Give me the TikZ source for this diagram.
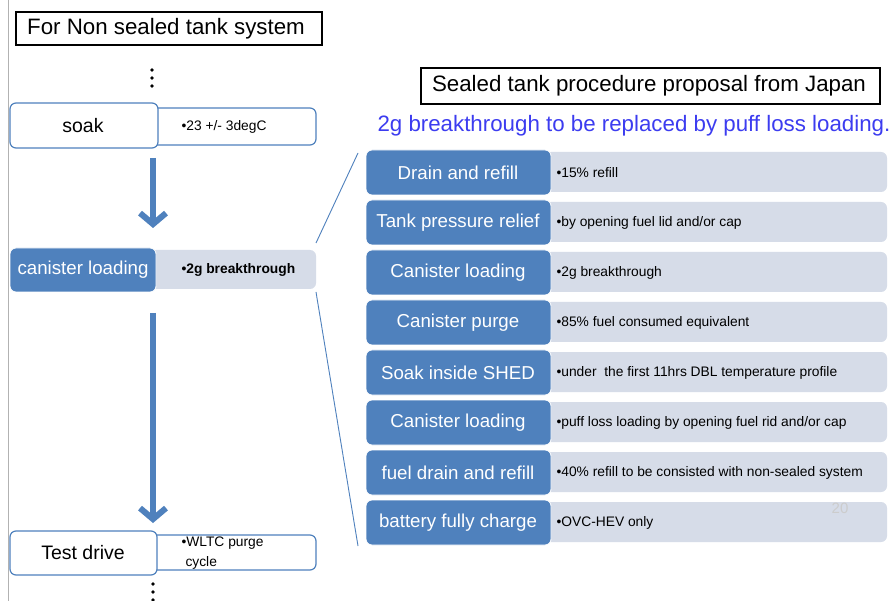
\documentclass[tikz,border=0pt]{standalone}
\usepackage{fontspec}
\setmainfont{Liberation Sans}
\usetikzlibrary{arrows.meta}
\definecolor{accent}{RGB}{79,129,189}
\definecolor{pale}{RGB}{214,220,232}
\definecolor{violet}{RGB}{60,60,240}
\begin{document}
\begin{tikzpicture}[x=1pt,y=-1pt,
  titlebox/.style={draw=black,line width=1.5pt,fill=white},
  titletext/.style={font=\fontsize{22.3}{26}\selectfont},
  lefthead/.style={rounded corners=6pt,line width=1.2pt,draw=accent,fill=white},
  headtext/.style={font=\fontsize{19.5}{22}\selectfont},
  leftdesc/.style={rounded corners=6pt,line width=1.2pt,draw=accent,fill=white},
  stepbox/.style={rounded corners=6pt,fill=accent,draw=white,line width=0.8pt},
  descbox/.style={rounded corners=6pt,fill=pale},
  steptext/.style={text=white,font=\fontsize{18.7}{22}\selectfont},
  desctext/.style={anchor=west,font=\fontsize{13.8}{16}\selectfont},
  dotmark/.style={fill=black,circle,inner sep=0pt,minimum size=3.6pt},
  bigarrow/.style={draw=accent,line width=6pt,-{Straight Barb[length=11pt,width=26pt]}},
  link/.style={draw=accent,line width=0.9pt}]
\useasboundingbox (0,0) rectangle (891,601);
\fill[white] (0,0) rectangle (891,601);
\draw[gray!60,line width=1pt] (8,0) -- (8,601);

% left column
\draw[titlebox] (16,12) rectangle (322,45);
\node[titletext] (t1) at (166,29) {For Non sealed tank system};
\node[dotmark] (d1a) at (152,70) {};
\node[dotmark] (d1b) at (152,78) {};
\node[dotmark] (d1c) at (152,86) {};

\draw[leftdesc] (150,108) rectangle (316,145);
\draw[lefthead] (10,103) rectangle (158,148);
\node[headtext] (soak) at (83,126) {soak};
\node[desctext] (soakd) at (178,127) {•23 +/- 3degC};

\fill[descbox] (150,250) rectangle (316,289);
\fill[stepbox] (10,248) rectangle (156,292);
\node[steptext] (cl) at (83,270) {canister loading};
\node[desctext,font=\fontsize{13.8}{16}\selectfont\bfseries] (cld) at (178,270) {•2g breakthrough};

\draw[leftdesc] (150,535) rectangle (316,570);
\draw[lefthead] (10,531) rectangle (157,575);
\node[headtext] (td) at (83,553) {Test drive};
\node[desctext,align=left,anchor=north west,font=\fontsize{13.8}{20}\selectfont] (tdd) at (178,533) {•WLTC purge\\\hspace*{4pt}cycle};
\node[dotmark] (d2a) at (153,584) {};
\node[dotmark] (d2b) at (153,592) {};
\node[dotmark] (d2c) at (153,600) {};

\coordinate (a1s) at (153,158);
\coordinate (a1e) at (153,228);
\coordinate (a2s) at (153,313);
\coordinate (a2e) at (153,523);
\draw[bigarrow] (a1s) -- (a1e);
\draw[bigarrow] (a2s) -- (a2e);

% right column
\draw[titlebox] (421,68) rectangle (880,104);
\node[titletext] (t2) at (649,86) {Sealed tank procedure proposal from Japan};
\node[anchor=west,text=violet,font=\fontsize{22.3}{26}\selectfont] (note) at (374,126) {2g breakthrough to be replaced by puff loss loading.};

\foreach \i/\lab/\desc in {0/Drain and refill/{•15\% refill},
  1/Tank pressure relief/{•by opening fuel lid and/or cap},
  2/Canister loading/{•2g breakthrough},
  3/Canister purge/{•85\% fuel consumed equivalent},
  4/Soak inside SHED/{•under\ \ the first 11hrs DBL temperature profile},
  5/Canister loading/{•puff loss loading by opening fuel rid and/or cap},
  6/fuel drain and refill/{•40\% refill to be consisted with non-sealed system},
  7/battery fully charge/{•OVC-HEV only}} {
  \pgfmathsetmacro{\yt}{150+50*\i}
  \fill[descbox] (545,\yt+2) rectangle (887,\yt+42);
  \draw[stepbox] (366,\yt) rectangle (551,\yt+45);
  \node[steptext] (s\i) at (458,\yt+22.5) {\lab};
  \node[desctext] (r\i) at (553,\yt+22.5) {\desc};
}
\node[text=gray!40,font=\fontsize{15}{16}\selectfont] (pg) at (840,508) {20};

\coordinate (z1) at (358,153);
\coordinate (z2) at (358,546);
\draw[link] (316,243) -- (z1);
\draw[link] (316,292) -- (z2);
\end{tikzpicture}
\end{document}
